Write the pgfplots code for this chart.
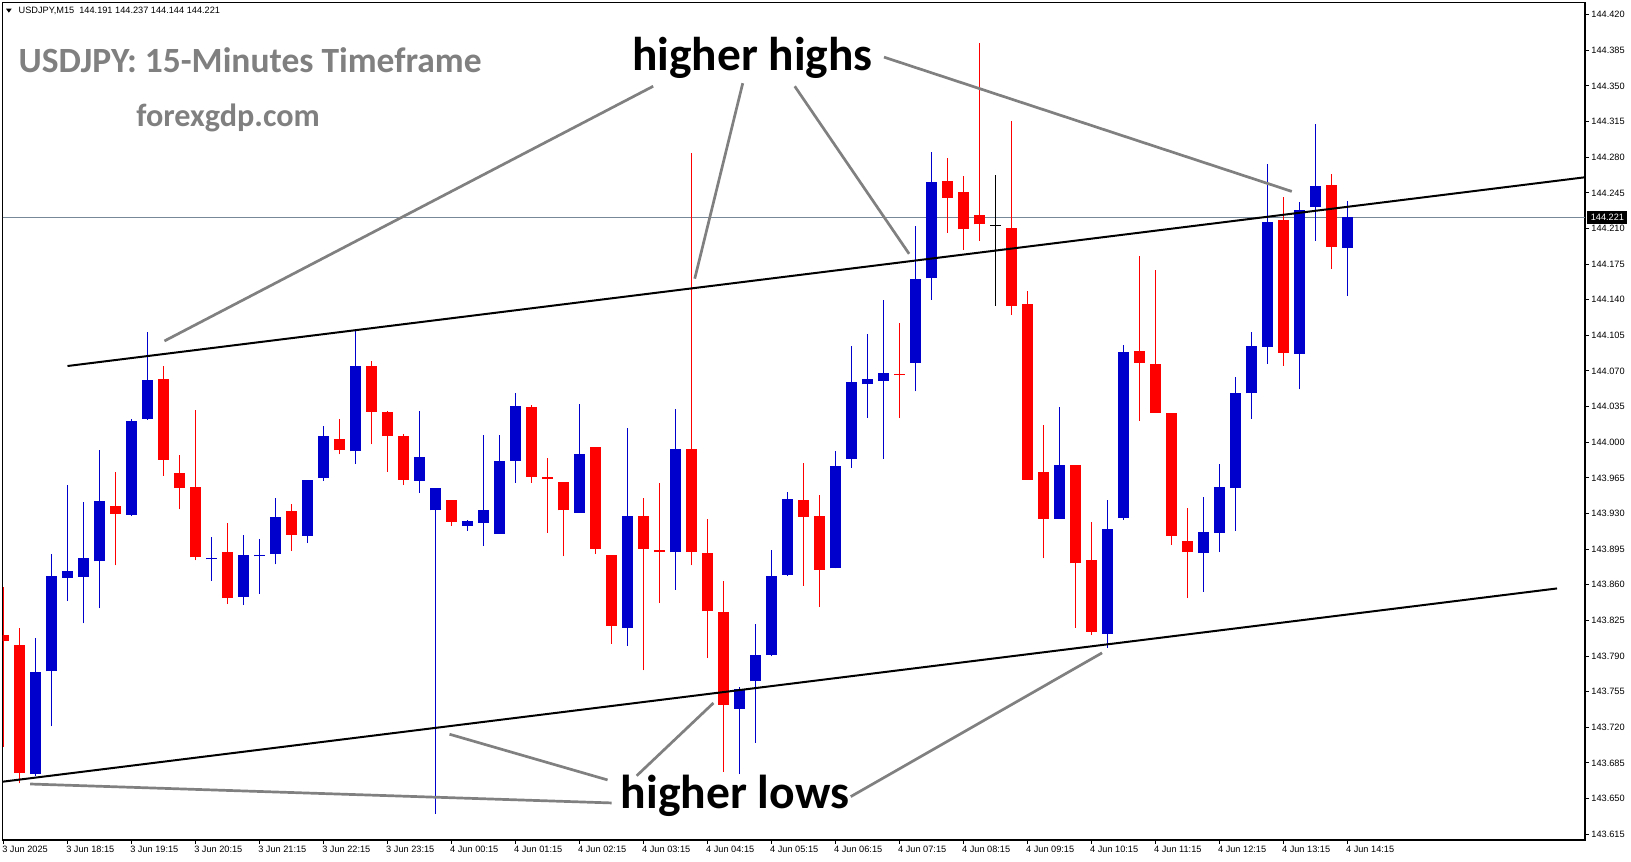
\documentclass[border=0pt]{standalone}
\usepackage{pgfplots}
\pgfplotsset{compat=1.18}
\usepackage{pgfplotstable}
\usepackage{fontspec}
\setmainfont{Liberation Sans}
\newfontfamily\carlito{Carlito}

\definecolor{bull}{RGB}{0,0,204}
\definecolor{bear}{RGB}{255,0,0}
\definecolor{annot}{RGB}{128,128,128}
\definecolor{pline}{RGB}{119,136,153}

% USDJPY M15 candles, i = bar number from 3 Jun 17:15
\pgfplotstableread{
i o h l c
2 143.674 143.808 143.672 143.774
3 143.775 143.890 143.721 143.869
4 143.867 143.958 143.844 143.874
5 143.868 143.941 143.822 143.886
6 143.883 143.992 143.837 143.942
8 143.929 144.023 143.928 144.021
9 144.023 144.108 144.022 144.061
13 143.885 143.907 143.864 143.886
15 143.848 143.909 143.840 143.889
16 143.888 143.905 143.851 143.889
17 143.890 143.945 143.880 143.927
19 143.908 143.963 143.901 143.963
20 143.965 144.016 143.962 144.006
22 143.991 144.109 143.979 144.075
26 143.962 144.031 143.950 143.986
27 143.933 143.955 143.635 143.955
29 143.918 143.924 143.913 143.923
30 143.921 144.007 143.898 143.933
31 143.910 144.007 143.910 143.982
32 143.982 144.048 143.960 144.036
36 143.931 144.038 143.931 143.988
39 143.818 144.014 143.800 143.928
42 143.892 144.033 143.855 143.993
46 143.738 143.760 143.674 143.758
47 143.765 143.821 143.705 143.791
48 143.791 143.894 143.790 143.869
49 143.870 143.951 143.869 143.944
52 143.876 143.991 143.876 143.977
53 143.984 144.095 143.975 144.059
54 144.057 144.106 144.024 144.062
55 144.060 144.140 143.984 144.068
57 144.078 144.212 144.050 144.160
58 144.161 144.285 144.140 144.256
66 143.925 144.035 143.925 143.978
69 143.812 143.943 143.798 143.915
70 143.926 144.096 143.924 144.089
75 143.891 143.946 143.853 143.912
76 143.911 143.979 143.892 143.956
77 143.955 144.064 143.913 144.048
78 144.048 144.108 144.023 144.095
79 144.094 144.273 144.077 144.216
81 144.087 144.236 144.052 144.228
82 144.231 144.313 144.198 144.252
84 144.191 144.237 144.144 144.221
}\bulltab

\pgfplotstableread{
i o h l c
0 143.811 143.858 143.701 143.805
1 143.801 143.818 143.665 143.675
7 143.937 143.971 143.879 143.930
10 144.062 144.075 143.967 143.983
11 143.970 143.987 143.934 143.955
12 143.956 144.032 143.884 143.887
14 143.892 143.921 143.841 143.847
18 143.932 143.939 143.893 143.909
21 144.003 144.023 143.988 143.992
23 144.075 144.080 143.998 144.030
24 144.030 144.031 143.971 144.006
25 144.006 144.008 143.958 143.963
28 143.943 143.943 143.918 143.922
33 144.035 144.037 143.960 143.966
34 143.966 143.985 143.911 143.964
35 143.961 143.961 143.888 143.933
37 143.995 143.995 143.890 143.895
38 143.889 143.889 143.802 143.820
40 143.928 143.945 143.776 143.895
41 143.894 143.960 143.842 143.892
43 143.993 144.284 143.879 143.892
44 143.891 143.925 143.788 143.834
45 143.833 143.864 143.676 143.742
50 143.943 143.980 143.859 143.927
51 143.928 143.948 143.838 143.875
56 144.067 144.117 144.024 144.066
59 144.257 144.279 144.206 144.240
60 144.246 144.262 144.189 144.209
61 144.223 144.392 144.198 144.214
63 144.210 144.316 144.125 144.134
64 144.136 144.149 143.963 143.963
65 143.971 144.017 143.886 143.925
67 143.978 143.978 143.818 143.881
68 143.884 143.922 143.811 143.814
71 144.090 144.183 144.021 144.078
72 144.077 144.169 144.029 144.029
73 144.029 144.029 143.899 143.908
74 143.903 143.935 143.847 143.892
80 144.218 144.241 144.075 144.088
83 144.253 144.264 144.170 144.192
}\beartab

\pgfplotstableread{
i o h l c
62 144.2125 144.263 144.134 144.2135
}\dojitab

\begin{document}
\begin{tikzpicture}
\useasboundingbox (0,0) rectangle (815.5pt,430.5pt);
\begin{axis}[
  at={(1.35pt,10.5pt)}, anchor=south west,
  width=791.15pt, height=418.65pt, scale only axis,
  xmin=-0.05, xmax=98.86, ymin=143.6093, ymax=144.4318,
  axis line style={line width=0.6pt},
  tick align=outside, major tick length=2pt,
  tick style={black, line width=0.5pt},
  xtick pos=bottom, ytick pos=right, yticklabel pos=right,
  ytick={143.615,143.650,143.685,143.720,143.755,143.790,143.825,143.860,143.895,143.930,143.965,144.000,144.035,144.070,144.105,144.140,144.175,144.210,144.245,144.280,144.315,144.350,144.385,144.420},
  scaled y ticks=false,
  yticklabel style={anchor=west, inner sep=0pt, xshift=1pt,
    /pgf/number format/.cd, fixed, fixed zerofill, precision=3, 1000 sep={}, assume math mode=true},
  xtick={0,4,...,84},
  xticklabels={3 Jun 2025,3 Jun 18:15,3 Jun 19:15,3 Jun 20:15,3 Jun 21:15,3 Jun 22:15,3 Jun 23:15,4 Jun 00:15,4 Jun 01:15,4 Jun 02:15,4 Jun 03:15,4 Jun 04:15,4 Jun 05:15,4 Jun 06:15,4 Jun 07:15,4 Jun 08:15,4 Jun 09:15,4 Jun 10:15,4 Jun 11:15,4 Jun 12:15,4 Jun 13:15,4 Jun 14:15},
  xticklabel style={anchor=north west, inner sep=0pt, xshift=-0.8pt, yshift=-1pt},
  ticklabel style={font=\fontsize{4.6}{5}\selectfont},
]
% current price line
\addplot[pline, line width=0.5pt, forget plot] coordinates {(-0.05,144.221) (98.86,144.221)};

% wicks
\addplot[draw=none, mark=none, forget plot, error bars/.cd, y dir=plus, y explicit, error mark=none,
  error bar style={draw=bull, line width=0.6pt}]
  table[x=i, y=l, y error plus expr=\thisrow{h}-\thisrow{l}] {\bulltab};
\addplot[draw=none, mark=none, forget plot, error bars/.cd, y dir=plus, y explicit, error mark=none,
  error bar style={draw=bear, line width=0.6pt}]
  table[x=i, y=l, y error plus expr=\thisrow{h}-\thisrow{l}] {\beartab};
\addplot[draw=none, mark=none, forget plot, error bars/.cd, y dir=plus, y explicit, error mark=none,
  error bar style={draw=black, line width=0.6pt}]
  table[x=i, y=l, y error plus expr=\thisrow{h}-\thisrow{l}] {\dojitab};

% bodies
\addplot[draw=none, mark=none, forget plot, error bars/.cd, y dir=plus, y explicit, error mark=none,
  error bar style={draw=bull, line width=5.5pt}]
  table[x=i, y=o, y error plus expr=\thisrow{c}-\thisrow{o}] {\bulltab};
\addplot[draw=none, mark=none, forget plot, error bars/.cd, y dir=plus, y explicit, error mark=none,
  error bar style={draw=bear, line width=5.5pt}]
  table[x=i, y=c, y error plus expr=\thisrow{o}-\thisrow{c}] {\beartab};
\addplot[draw=none, mark=none, forget plot, error bars/.cd, y dir=plus, y explicit, error mark=none,
  error bar style={draw=black, line width=5.5pt}]
  table[x=i, y=o, y error plus expr=\thisrow{c}-\thisrow{o}] {\dojitab};

% channel lines
\addplot[black, line width=1pt] coordinates {(4.0,144.0749) (98.86,144.2603)};
\addplot[black, line width=1pt] coordinates {(-0.04,143.6666) (97.11,143.8564)};

% pointers
\addplot[annot, line width=1.35pt] coordinates {(40.61,144.3497) (10.06,144.0995)};
\addplot[annot, line width=1.35pt] coordinates {(46.21,144.3527) (43.21,144.1607)};
\addplot[annot, line width=1.35pt] coordinates {(49.46,144.3497) (56.61,144.1851)};
\addplot[annot, line width=1.35pt] coordinates {(55.04,144.3783) (80.53,144.2464)};
\addplot[annot, line width=1.35pt] coordinates {(38.01,143.6457) (1.67,143.6643)};
\addplot[annot, line width=1.35pt] coordinates {(37.76,143.6683) (27.88,143.7132)};
\addplot[annot, line width=1.35pt] coordinates {(39.58,143.6724) (44.38,143.7439)};
\addplot[annot, line width=1.35pt] coordinates {(52.96,143.6519) (68.67,143.7931)};

\node[anchor=base, inner sep=0pt, font=\carlito\bfseries\fontsize{23.7}{27}\selectfont] at (axis cs:46.82,144.3650) {higher highs};
\node[anchor=base, inner sep=0pt, font=\carlito\bfseries\fontsize{23.8}{27}\selectfont] at (axis cs:45.73,143.6400) {higher lows};
\end{axis}

% header and titles
\fill (3pt,426.15pt) -- (5.85pt,426.15pt) -- (4.425pt,424.15pt) -- cycle;
\node[anchor=base west, inner sep=0pt, font=\fontsize{4.6}{5}\selectfont] at (9.15pt,423.5pt) {USDJPY,M15\ \ 144.191 144.237 144.144 144.221};
\node[anchor=base west, inner sep=0pt, text=annot, font=\carlito\bfseries\fontsize{17.75}{20}\selectfont] at (9.15pt,394.2pt) {USDJPY: 15-Minutes Timeframe};
\node[anchor=base west, inner sep=0pt, text=annot, font=\carlito\bfseries\fontsize{16.1}{18}\selectfont] at (68pt,367.4pt) {forexgdp.com};
\node[anchor=west, fill=black, text=white, inner sep=0pt, minimum width=20pt, minimum height=6.5pt, font=\fontsize{4.6}{5}\selectfont] at (793.5pt,321.85pt) {144.221};
\end{tikzpicture}
\end{document}
